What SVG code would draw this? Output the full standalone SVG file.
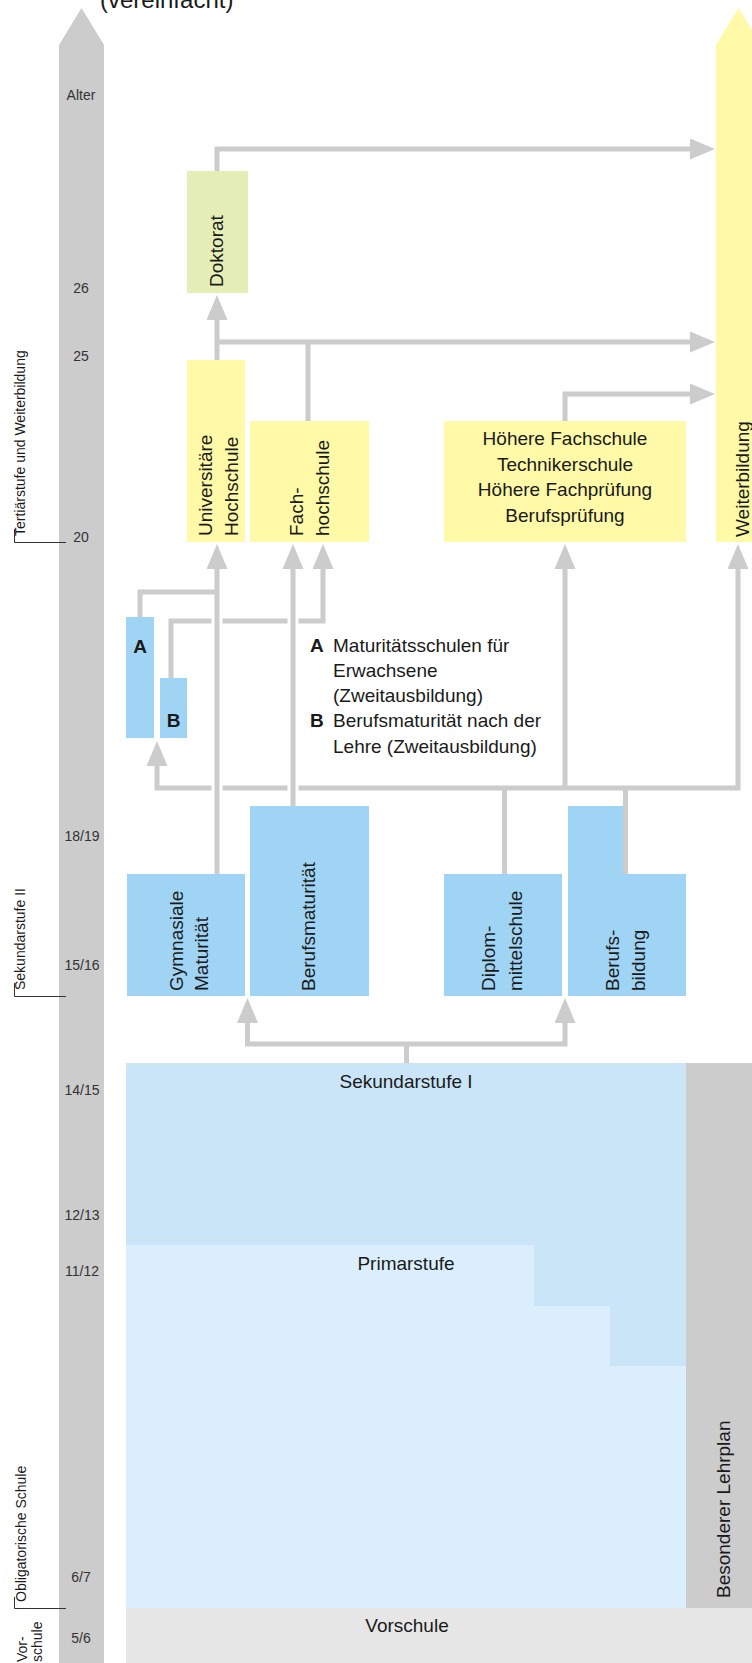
<svg xmlns="http://www.w3.org/2000/svg" width="752" height="1663" viewBox="0 0 752 1663">
<defs>
<marker id="ah" viewBox="0 0 25 21" refX="0" refY="10.5" markerWidth="25" markerHeight="21" markerUnits="userSpaceOnUse" orient="auto-start-reverse">
<path d="M0,0 L25,10.5 L0,21 Z" fill="#cccccc"/>
</marker>
<style>
text{font-family:"Liberation Sans",Arial,sans-serif;fill:#1a1a1a}
.lbl{font-size:19px}
.age{font-size:14px;fill:#333;text-anchor:middle}
.side{font-size:14px}
.bold{font-size:19px;font-weight:bold}
.mid{text-anchor:middle}
.blue{fill:#a0d4f5}
.yel{fill:#fff9a8}
.gray{fill:#cccccc}
.con{fill:none;stroke:#cccccc;stroke-width:5}
.gap{fill:none;stroke:#ffffff;stroke-width:11}
.rule{fill:none;stroke:#333;stroke-width:1}
</style>
</defs>
<rect x="0" y="0" width="752" height="1663" fill="#ffffff"/>
<text x="100" y="8" style="font-size:24px">(vereinfacht)</text>

<g id="alter">
<polygon class="gray" points="59,45 81.5,8 104,45 104,1663 59,1663"/>
<text class="age" x="81" y="100">Alter</text>
<text class="age" x="81" y="293">26</text>
<text class="age" x="81" y="361">25</text>
<text class="age" x="81" y="542">20</text>
<text class="age" x="82" y="841">18/19</text>
<text class="age" x="82" y="970">15/16</text>
<text class="age" x="82" y="1095">14/15</text>
<text class="age" x="82" y="1220">12/13</text>
<text class="age" x="82" y="1276">11/12</text>
<text class="age" x="81" y="1582">6/7</text>
<text class="age" x="81" y="1643">5/6</text>
</g>

<g id="stufen">
<path class="rule" d="M14.5,529 V542.5 H66"/>
<text class="side" transform="translate(25,536) rotate(-90)">Tertiärstufe und Weiterbildung</text>
<path class="rule" d="M14.5,983 V996.5 H66"/>
<text class="side" transform="translate(25,990) rotate(-90)">Sekundarstufe II</text>
<path class="rule" d="M14.5,1597 V1608.5 H66"/>
<text class="side" transform="translate(25.5,1602) rotate(-90)">Obligatorische Schule</text>
<text class="side" transform="translate(26.5,1662) rotate(-90)">Vor-</text>
<text class="side" transform="translate(41.5,1662) rotate(-90)">schule</text>
</g>

<g id="weiterbildung">
<polygon class="yel" points="716,45 738.5,8 761,45 761,542 716,542"/>
<text class="lbl" transform="translate(748.5,537) rotate(-90)">Weiterbildung</text>
</g>

<g id="sekundarstufe1">
<rect x="126" y="1063" width="560" height="303" fill="#c9e5f7"/>
<text class="lbl mid" x="406" y="1088">Sekundarstufe I</text>
</g>
<g id="primarstufe">
<polygon fill="#dbeefb" points="126,1245 534,1245 534,1306 610,1306 610,1366 686,1366 686,1608 126,1608"/>
<text class="lbl mid" x="406" y="1270">Primarstufe</text>
</g>
<g id="lehrplan">
<rect class="gray" x="686" y="1063" width="66" height="545"/>
<text class="lbl" transform="translate(730,1598) rotate(-90)">Besonderer Lehrplan</text>
</g>
<g id="vorschule">
<rect x="126" y="1608" width="626" height="55" fill="#e6e6e6"/>
<text class="lbl mid" x="407" y="1632">Vorschule</text>
</g>

<g id="doktorat">
<rect x="187" y="171" width="61" height="122" fill="#e5eeb6"/>
<text class="lbl" transform="translate(223,287) rotate(-90)">Doktorat</text>
</g>
<g id="uni">
<rect class="yel" x="187" y="360" width="58" height="182"/>
<text class="lbl" transform="translate(212,536) rotate(-90)">Universitäre</text>
<text class="lbl" transform="translate(237.5,536) rotate(-90)">Hochschule</text>
</g>
<g id="fh">
<rect class="yel" x="250" y="421" width="119" height="121"/>
<text class="lbl" transform="translate(303,536) rotate(-90)">Fach-</text>
<text class="lbl" transform="translate(329,536) rotate(-90)">hochschule</text>
</g>
<g id="hfs">
<rect class="yel" x="444" y="421" width="242" height="121"/>
<text class="lbl mid" x="565" y="445">Höhere Fachschule</text>
<text class="lbl mid" x="565" y="471">Technikerschule</text>
<text class="lbl mid" x="565" y="496">Höhere Fachprüfung</text>
<text class="lbl mid" x="565" y="522">Berufsprüfung</text>
</g>

<g id="boxA">
<rect class="blue" x="126" y="617" width="28" height="121"/>
<text class="bold mid" x="140" y="653">A</text>
</g>
<g id="boxB">
<rect class="blue" x="160" y="678" width="27" height="60"/>
<text class="bold mid" x="173.5" y="727">B</text>
</g>
<g id="legende">
<text class="bold" x="310" y="652">A</text>
<text class="lbl" x="333" y="652">Maturitätsschulen für</text>
<text class="lbl" x="333" y="677">Erwachsene</text>
<text class="lbl" x="333" y="702">(Zweitausbildung)</text>
<text class="bold" x="310" y="727">B</text>
<text class="lbl" x="333" y="727">Berufsmaturität nach der</text>
<text class="lbl" x="333" y="753">Lehre (Zweitausbildung)</text>
</g>

<g id="gymnasium">
<rect class="blue" x="127" y="874" width="118" height="122"/>
<text class="lbl" transform="translate(183,991) rotate(-90)">Gymnasiale</text>
<text class="lbl" transform="translate(208,991) rotate(-90)">Maturität</text>
</g>
<g id="berufsmaturitaet">
<rect class="blue" x="250" y="806" width="119" height="190"/>
<text class="lbl" transform="translate(314.5,991) rotate(-90)">Berufsmaturität</text>
</g>
<g id="diplom">
<rect class="blue" x="444" y="874" width="118" height="122"/>
<text class="lbl" transform="translate(495,991) rotate(-90)">Diplom-</text>
<text class="lbl" transform="translate(521.5,991) rotate(-90)">mittelschule</text>
</g>
<g id="berufsbildung">
<path class="blue" d="M568,806 H623 V874 H686 V996 H568 Z"/>
<text class="lbl" transform="translate(619,991) rotate(-90)">Berufs-</text>
<text class="lbl" transform="translate(645,991) rotate(-90)">bildung</text>
</g>

<g id="connectors">
<path class="con" d="M217,171 V149 H690" marker-end="url(#ah)"/>
<path class="con" d="M217,360 V320" marker-end="url(#ah)"/>
<path class="con" d="M217,342 H690" marker-end="url(#ah)"/>
<path class="con" d="M308,421 V342"/>
<path class="con" d="M565,421 V394 H690" marker-end="url(#ah)"/>
<path class="con" d="M217,592 H140 V617"/>
<path class="con" d="M171,678 V621 H323 V569" marker-end="url(#ah)"/>
<path class="con" d="M157,766 V788 H738 V569" marker-start="url(#ah)" marker-end="url(#ah)"/>
<path class="con" d="M504.5,874 V788"/>
<path class="con" d="M625.5,874 V788"/>
<path class="con" d="M565,788 V569" marker-end="url(#ah)"/>
<path class="gap" d="M217,614 V628 M217,781 V795 M293,614 V628 M293,781 V795"/>
<path class="con" d="M217,874 V569" marker-end="url(#ah)"/>
<path class="con" d="M293,806 V569" marker-end="url(#ah)"/>
<path class="con" d="M406.5,1063 V1044"/>
<path class="con" d="M247.5,1023 V1044 H565 V1023" marker-start="url(#ah)" marker-end="url(#ah)"/>
</g>
</svg>
